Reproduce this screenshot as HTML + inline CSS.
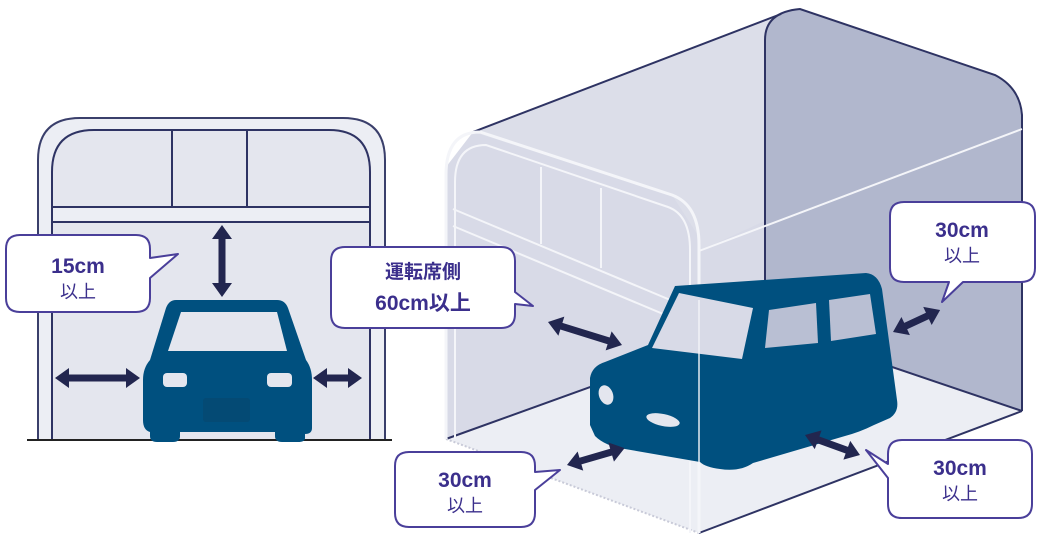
<!DOCTYPE html>
<html><head><meta charset="utf-8"><style>
html,body{margin:0;padding:0;background:#fff}
svg{display:block}
.t{font-family:"Liberation Sans","Noto Sans CJK JP",sans-serif;fill:#3b2f8c;font-weight:bold;text-anchor:middle}
.s{font-family:"Liberation Sans","Noto Sans CJK JP",sans-serif;fill:#3b2f8c;text-anchor:middle}
</style></head><body>
<svg width="1040" height="541" viewBox="0 0 1040 541" xmlns="http://www.w3.org/2000/svg">
<defs>
<polygon id="a" points="0,0 14,-9 14,-3.5 0,-3.5"/>
</defs>
<!-- LEFT GARAGE -->
<path d="M38,440 V160 Q38,118 80,118 H343 Q385,118 385,160 V440 Z" fill="#eceef4" stroke="#3a3f6b" stroke-width="2"/>
<path d="M52,440 V172 Q52,130 94,130 H329 Q370,130 370,172 V440 Z" fill="#e4e6ee" stroke="#2e3363" stroke-width="2"/>
<rect x="52" y="207" width="318" height="15" fill="#eceef4" stroke="#2e3363" stroke-width="2"/>
<rect x="172" y="130" width="75" height="77" fill="none" stroke="#2e3363" stroke-width="2"/>
<line x1="27" y1="440" x2="392" y2="440" stroke="#222" stroke-width="2"/>
<!-- left car -->
<path d="M176,300 H277 Q285,300 288,308 L306,360 Q312,368 312,380 V428 Q312,434 305,434 V438 Q305,442 298,442 H282 Q275,442 275,436 V432 H180 V436 Q180,442 173,442 H157 Q150,442 150,436 V432 Q143,430 143,420 V380 Q143,368 150,360 L166,308 Q169,300 176,300 Z" fill="#00507f"/>
<path d="M181,312 H277 L287,351 H168 Z" fill="#e4e6ee"/>
<rect x="163" y="373" width="24" height="14" rx="4" fill="#e4e6ee"/>
<rect x="267" y="373" width="25" height="14" rx="4" fill="#e4e6ee"/>
<rect x="203" y="398" width="47" height="24" rx="3" fill="#044a74"/>
<!-- left arrows -->
<g fill="#22264f">
<polygon transform="translate(222,225) rotate(90)" points="0,0 14,-10 14,-3.5 58,-3.5 58,-10 72,0 58,10 58,3.5 14,3.5 14,10"/>
<polygon transform="translate(55,378)" points="0,0 14,-10 14,-3.5 71,-3.5 71,-10 85,0 71,10 71,3.5 14,3.5 14,10"/>
<polygon transform="translate(313,378)" points="0,0 14,-10 14,-3.5 35,-3.5 35,-10 49,0 35,10 35,3.5 14,3.5 14,10"/>
</g>
<!-- RIGHT STRUCTURE -->
<polygon points="446,439 446,167 473,132 781,14 765,35 765,324" fill="#d8dae7"/>
<polygon points="473,132 781,14 800,9 995,75 1018,105 699,251 699,237 672,195" fill="#dcdee9"/>
<path d="M765,324 V40 Q765,12 800,9 L995,75 Q1020,88 1022,115 V411 Z" fill="#b1b7cd"/>
<polygon points="446,439 765,324 1022,411 699,533" fill="#eceef4"/>
<path d="M765,324 V40 Q765,12 800,9 L995,75 Q1020,88 1022,115 V411" fill="none" stroke="#2e3363" stroke-width="2"/>
<line x1="473" y1="132" x2="781" y2="14" stroke="#2e3363" stroke-width="2"/>
<line x1="446" y1="439" x2="765" y2="324" stroke="#2e3363" stroke-width="2"/>
<line x1="765" y1="324" x2="1022" y2="411" stroke="#2e3363" stroke-width="2"/>
<line x1="1022" y1="411" x2="699" y2="533" stroke="#2e3363" stroke-width="2"/>
<line x1="446" y1="439" x2="699" y2="533" stroke="#c8cad8" stroke-width="2" stroke-dasharray="2 2"/>
<line x1="699" y1="251" x2="1022" y2="129" stroke="#f4f5f9" stroke-width="2"/>
<!-- front arch (white) -->
<path d="M446,439 V175 Q446,132 480,132 L672,195 Q699,205 699,245 V533" fill="none" stroke="#f4f5f9" stroke-width="3"/>
<path d="M455,439 V182 Q455,145 486,145 L668,207 Q690,215 690,250 V533" fill="none" stroke="#f4f5f9" stroke-width="2"/>
<line x1="453" y1="209" x2="687" y2="307" stroke="#f4f5f9" stroke-width="2"/>
<line x1="453" y1="226" x2="687" y2="324" stroke="#f4f5f9" stroke-width="2"/>
<line x1="541" y1="167" x2="541" y2="244" stroke="#f4f5f9" stroke-width="2"/>
<line x1="601" y1="188" x2="601" y2="268" stroke="#f4f5f9" stroke-width="2"/>
<!-- right car -->
<path d="M675,286 L866,273 Q878,274 882,289 L897,400 Q899,412 890,418 L874,425 Q860,432 845,436 L753,463 Q740,472 720,469 Q705,467 700,462 L625,449 Q605,446 595,436 L590,425 V378 Q592,366 605,362 L648,345 Z" fill="#00507f"/>
<polygon points="679,293 753,308 742,359 652,348" fill="#d8dae7"/>
<polygon points="769,310 816,303 818,343 765,348" fill="#b9bfd3"/>
<polygon points="829,300 870,294 876,334 831,341" fill="#b9bfd3"/>
<ellipse cx="606" cy="395" rx="7" ry="10" fill="#e4e6ee" transform="rotate(-20 606 395)"/>
<ellipse cx="663" cy="420" rx="17" ry="6" fill="#e4e6ee" transform="rotate(12 663 420)"/>
<line x1="699" y1="300" x2="699" y2="533" stroke="#f4f5f9" stroke-width="2" opacity="0.7"/>
<!-- right arrows -->
<g fill="#22264f">
<polygon transform="translate(548,322) rotate(17.3)" points="0,0 14,-10 14,-3.5 63.5,-3.5 63.5,-10 77.5,0 63.5,10 63.5,3.5 14,3.5 14,10"/>
<polygon transform="translate(893,332) rotate(-25)" points="0,0 14,-10 14,-3.5 38,-3.5 38,-10 52,0 38,10 38,3.5 14,3.5 14,10"/>
<polygon transform="translate(567,465) rotate(-16.3)" points="0,0 14,-10 14,-3.5 46,-3.5 46,-10 60,0 46,10 46,3.5 14,3.5 14,10"/>
<polygon transform="translate(805,435) rotate(20)" points="0,0 14,-10 14,-3.5 44.5,-3.5 44.5,-10 58.5,0 44.5,10 44.5,3.5 14,3.5 14,10"/>
</g>
<!-- bubbles -->
<g fill="#fff" stroke="#4a3f9a" stroke-width="2" stroke-linejoin="round">
<path d="M20,235 H136 Q150,235 150,249 V258 L178,254 L150,278 V298 Q150,312 136,312 H20 Q6,312 6,298 V249 Q6,235 20,235 Z"/>
<path d="M345,247 H501 Q515,247 515,261 V292 L533,306 L515,304 V314 Q515,328 501,328 H345 Q331,328 331,314 V261 Q331,247 345,247 Z"/>
<path d="M904,202 H1021 Q1035,202 1035,216 V268 Q1035,282 1021,282 H963 L942,302 L949,282 H904 Q890,282 890,268 V216 Q890,202 904,202 Z"/>
<path d="M409,452 H521 Q535,452 535,466 V472 L560,470 L535,490 V513 Q535,527 521,527 H409 Q395,527 395,513 V466 Q395,452 409,452 Z"/>
<path d="M902,440 H1018 Q1032,440 1032,454 V504 Q1032,518 1018,518 H902 Q888,518 888,504 V478 L866,450 L888,464 V454 Q888,440 902,440 Z"/>
</g>
<text class="t" x="78" y="273" font-size="21">15cm</text>
<text class="s" x="78" y="298" font-size="18">以上</text>
<text class="s" x="423" y="278" font-size="19" font-weight="bold">運転席側</text>
<text class="t" x="423" y="310" font-size="21">60cm以上</text>
<text class="t" x="962" y="237" font-size="21">30cm</text>
<text class="s" x="962" y="262" font-size="18">以上</text>
<text class="t" x="465" y="487" font-size="21">30cm</text>
<text class="s" x="465" y="512" font-size="18">以上</text>
<text class="t" x="960" y="475" font-size="21">30cm</text>
<text class="s" x="960" y="500" font-size="18">以上</text>
</svg>
</body></html>
